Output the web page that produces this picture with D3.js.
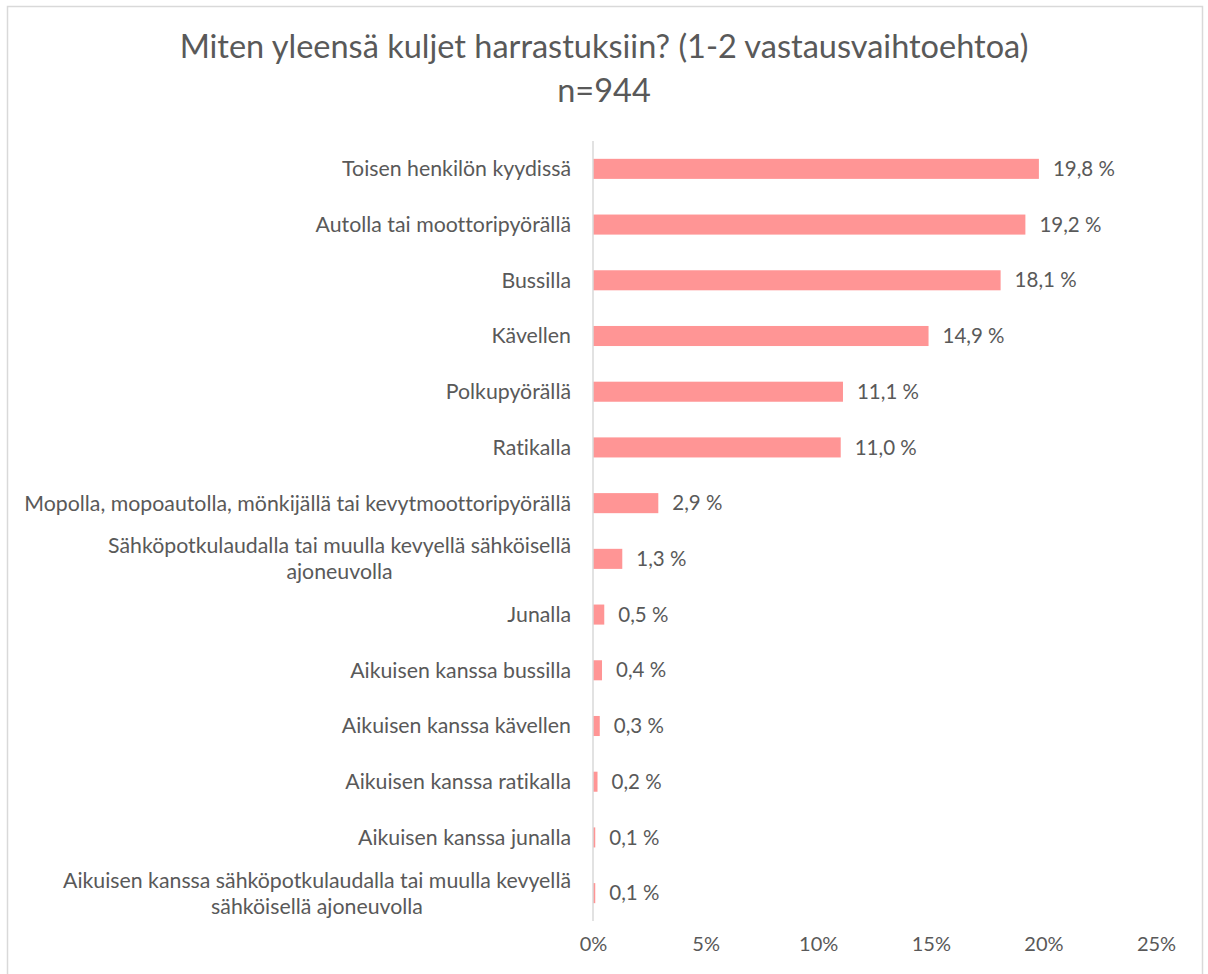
<!DOCTYPE html>
<html>
<head>
<meta charset="utf-8">
<script src="https://cdn.jsdelivr.net/npm/d3@7"></script>
<style>
  body { margin: 0; background: #fff; }
  text { font-family: Lato, "Open Sans", sans-serif; fill: #595959; font-variant-ligatures: none; }
</style>
</head>
<body>
<div id="chart"></div>
<script>
var svgWidth = 1208;
var svgHeight = 974;

// chart data
var titleLines = ["Miten yleensä kuljet harrastuksiin? (1-2 vastausvaihtoehtoa)", "n=944"];
var categories = [
  "Toisen henkilön kyydissä",
  "Autolla tai moottoripyörällä",
  "Bussilla",
  "Kävellen",
  "Polkupyörällä",
  "Ratikalla",
  "Mopolla, mopoautolla, mönkijällä tai kevytmoottoripyörällä",
  "Sähköpotkulaudalla tai muulla kevyellä sähköisellä|ajoneuvolla",
  "Junalla",
  "Aikuisen kanssa bussilla",
  "Aikuisen kanssa kävellen",
  "Aikuisen kanssa ratikalla",
  "Aikuisen kanssa junalla",
  "Aikuisen kanssa sähköpotkulaudalla tai muulla kevyellä|sähköisellä ajoneuvolla"
];
var values = [19.8, 19.2, 18.1, 14.9, 11.1, 11.0, 2.9, 1.3, 0.5, 0.4, 0.3, 0.2, 0.1, 0.1];
var xTicks = [0, 5, 10, 15, 20, 25];

var plot = { left: 593, right: 1156, top: 141, bottom: 921 };

var svg = d3.select("#chart")
  .append("svg")
  .attr("width", svgWidth)
  .attr("height", svgHeight);

// chart border
svg.append("rect")
  .attr("x", 7.5)
  .attr("y", 6.5)
  .attr("width", 1195)
  .attr("height", 975)
  .attr("fill", "#fff")
  .attr("stroke", "#d9d9d9")
  .attr("stroke-width", 1.5);

// title
svg.selectAll(".title")
  .data(titleLines)
  .enter()
  .append("text")
  .attr("class", "title")
  .attr("x", 604)
  .attr("y", (d, i) => 58 + i * 44)
  .attr("text-anchor", "middle")
  .style("font-size", "32.5px")
  .text(d => d);

var xScale = d3.scaleLinear()
  .domain([0, 25])
  .range([plot.left, plot.right]);

var yScale = d3.scaleBand()
  .domain(categories)
  .range([plot.top, plot.bottom])
  .paddingInner(0.64)
  .paddingOuter(0.32);

// bottom axis (labels only)
var bottomAxis = d3.axisBottom(xScale)
  .tickValues(xTicks)
  .tickSize(0)
  .tickPadding(0)
  .tickFormat(d => d + "%");

var xAxis = svg.append("g")
  .attr("transform", `translate(0, 937)`)
  .call(bottomAxis);
xAxis.select(".domain").remove();
xAxis.selectAll("text")
  .attr("dy", "0.71em")
  .style("font-size", "20px")
  .style("font-family", "Lato, sans-serif")
  .attr("fill", "#595959");

// bars
svg.selectAll(".bar")
  .data(values)
  .enter()
  .append("rect")
  .attr("class", "bar")
  .attr("x", xScale(0))
  .attr("y", (d, i) => yScale(categories[i]))
  .attr("width", d => xScale(d) - xScale(0))
  .attr("height", yScale.bandwidth())
  .attr("fill", "#ff9595");

// vertical axis line
svg.append("line")
  .attr("x1", xScale(0))
  .attr("x2", xScale(0))
  .attr("y1", plot.top)
  .attr("y2", plot.bottom)
  .attr("stroke", "#d9d9d9")
  .attr("stroke-width", 1.5);

// value labels
svg.selectAll(".value")
  .data(values)
  .enter()
  .append("text")
  .attr("class", "value")
  .attr("x", d => xScale(d) + 14)
  .attr("y", (d, i) => yScale(categories[i]) + yScale.bandwidth() / 2)
  .attr("dy", "0.35em")
  .style("font-size", "20.5px")
  .text(d => d3.format(".1f")(d).replace(".", ",") + " %");

// category labels (wrapped lines centred in a right-aligned block)
var labelRight = 571;
var lineH = 26;
categories.forEach(function (cat) {
  var lines = cat.split("|");
  var cy = yScale(cat) + yScale.bandwidth() / 2;
  var g = svg.append("g");
  var texts = lines.map(function (ln, j) {
    return g.append("text")
      .attr("y", cy + (j - (lines.length - 1) / 2) * lineH)
      .attr("dy", "0.35em")
      .attr("text-anchor", "middle")
      .style("font-size", "21.3px")
      .text(ln);
  });
  var maxW = d3.max(texts, t => t.node().getComputedTextLength());
  texts.forEach(t => t.attr("x", labelRight - maxW / 2));
});
</script>
</body>
</html>
